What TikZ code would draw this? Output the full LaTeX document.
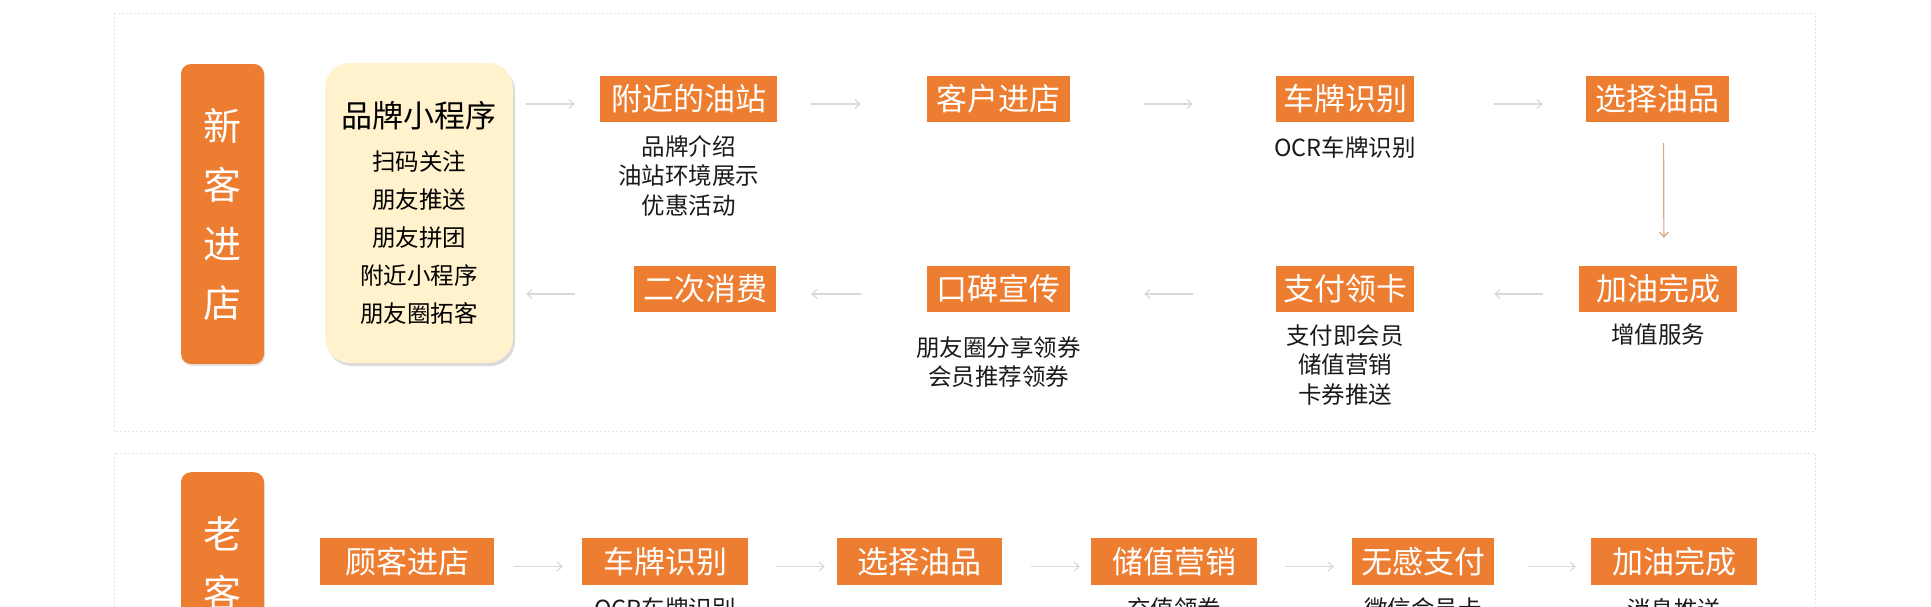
\documentclass[tikz,border=0pt]{standalone}
\usepackage{fontspec}
\usetikzlibrary{arrows.meta,shadows}
\newfontfamily\cjk{Noto Sans CJK SC}
\definecolor{brandorange}{HTML}{ED7D31}
\definecolor{brandcream}{HTML}{FFF2CC}
\definecolor{brandline}{HTML}{D9D9D9}
\definecolor{brandframe}{HTML}{E3E3E3}
\definecolor{brandtan}{HTML}{D9A384}
\definecolor{brandtext}{HTML}{1A1A1A}

\tikzset{
  stepbox/.style={fill=brandorange, text=white, inner sep=0pt, minimum height=46pt,
    font=\cjk\fontsize{31}{37}\selectfont},
  sidebox/.style={fill=brandorange, text=white, rounded corners=10pt, align=center,
    minimum width=83pt, minimum height=300pt, font=\cjk\fontsize{38}{59}\selectfont,
    drop shadow={opacity=.2, shadow xshift=1pt, shadow yshift=-2pt}},
  minibox/.style={fill=brandcream, text=black, rounded corners=25pt, align=center,
    minimum width=188pt, minimum height=300pt, font=\cjk\fontsize{23.5}{38}\selectfont,
    drop shadow={opacity=.3, shadow xshift=2pt, shadow yshift=-3pt}},
  subtext/.style={text=brandtext, align=center, inner sep=0pt,
    font=\cjk\fontsize{23.5}{29.5}\selectfont},
  flow/.style={draw=brandline, line width=1.2pt, -{Straight Barb[length=5pt,width=9pt]},
    transform canvas={yshift=-5pt}},
  sectionframe/.style={draw=brandframe, line width=1pt, dash pattern=on 2pt off 2pt},
}

\begin{document}
\begin{tikzpicture}[x=1pt, y=-1pt]
  \useasboundingbox (0,0) rectangle (1931,606);
  \clip (0,0) rectangle (1931,606);
  \draw[sectionframe] (114,13) rectangle (1815,431);
  \draw[sectionframe] (114,453) rectangle (1815,800);

  \node[sidebox] (xk) at (222.5,214) {新\\客\\进\\店};
  \node[minibox] (xcx) at (419,213) {{\fontsize{31}{38}\selectfont 品牌小程序}\\[5pt]扫码关注\\朋友推送\\朋友拼团\\附近小程序\\朋友圈拓客};

  \node[stepbox, minimum width=177pt] (fj) at (688.5,99) {附近的油站};
  \node[stepbox, minimum width=143pt] (kh) at (998.5,99) {客户进店};
  \node[stepbox, minimum width=138pt] (cp) at (1345,99) {车牌识别};
  \node[stepbox, minimum width=143pt] (xz) at (1657.5,99) {选择油品};
  \node[stepbox, minimum width=142pt] (ec) at (705,289) {二次消费};
  \node[stepbox, minimum width=143pt] (kb) at (998.5,289) {口碑宣传};
  \node[stepbox, minimum width=138pt] (zf) at (1345,289) {支付领卡};
  \node[stepbox, minimum width=158pt] (jy) at (1658,289) {加油完成};

  \node[subtext] (fjtxt) at (688.5,175.5) {品牌介绍\\油站环境展示\\优惠活动};
  \node[subtext] (cptxt) at (1345,148) {OCR车牌识别};
  \node[subtext] (kbtxt) at (998.5,362) {朋友圈分享领券\\会员推荐领券};
  \node[subtext] (zftxt) at (1345,365) {支付即会员\\储值营销\\卡券推送};
  \node[subtext] (jytxt) at (1658,335) {增值服务};

  \draw[flow, shorten <=13pt, shorten >=25pt] (xcx.east |- fj.west) -- (fj.west);
  \draw[flow, shorten <=34pt, shorten >=66pt] (fj) -- (kh);
  \draw[flow, shorten <=74pt, shorten >=83pt] (kh) -- (cp);
  \draw[flow, shorten <=80pt, shorten >=43pt] (cp) -- (xz);
  \draw[draw=brandtan, line width=1.2pt, -{Straight Barb[length=5pt,width=9pt]},
    shorten <=21pt, shorten >=28pt] ([xshift=6pt]xz.south) -- ([xshift=6pt]jy.north);
  \draw[flow, shorten <=36pt, shorten >=80pt] (jy) -- (zf);
  \draw[flow, shorten <=83pt, shorten >=74pt] (zf) -- (kb);
  \draw[flow, shorten <=66pt, shorten >=35pt] (kb) -- (ec);
  \draw[flow, shorten <=59pt, shorten >=13pt] (ec.west) -- (xcx.east |- ec.east);

  \node[sidebox, anchor=north] (lk) at (222.5,472) {老\\客\\\phantom{进}\\\phantom{店}};

  \node[stepbox, minimum width=174pt, minimum height=47pt] (gk) at (407,561.5) {顾客进店};
  \node[stepbox, minimum width=166pt, minimum height=47pt] (cp2) at (665,561.5) {车牌识别};
  \node[stepbox, minimum width=165pt, minimum height=47pt] (xz2) at (919.5,561.5) {选择油品};
  \node[stepbox, minimum width=166pt, minimum height=47pt] (cz) at (1174,561.5) {储值营销};
  \node[stepbox, minimum width=142pt, minimum height=47pt] (wg) at (1423,561.5) {无感支付};
  \node[stepbox, minimum width=166pt, minimum height=47pt] (jy2) at (1674,561.5) {加油完成};

  \node[subtext] (cp2txt) at (665,609) {OCR车牌识别};
  \node[subtext] (cztxt) at (1174,609) {充值领券};
  \node[subtext] (wgtxt) at (1423,609) {微信会员卡};
  \node[subtext] (jy2txt) at (1674,609) {消息推送};

  \draw[flow, shorten <=20pt, shorten >=19pt] (gk) -- (cp2);
  \draw[flow, shorten <=28pt, shorten >=12pt] (cp2) -- (xz2);
  \draw[flow, shorten <=29pt, shorten >=11pt] (xz2) -- (cz);
  \draw[flow, shorten <=28pt, shorten >=18pt] (cz) -- (wg);
  \draw[flow, shorten <=34pt, shorten >=15pt] (wg) -- (jy2);
\end{tikzpicture}
\end{document}
